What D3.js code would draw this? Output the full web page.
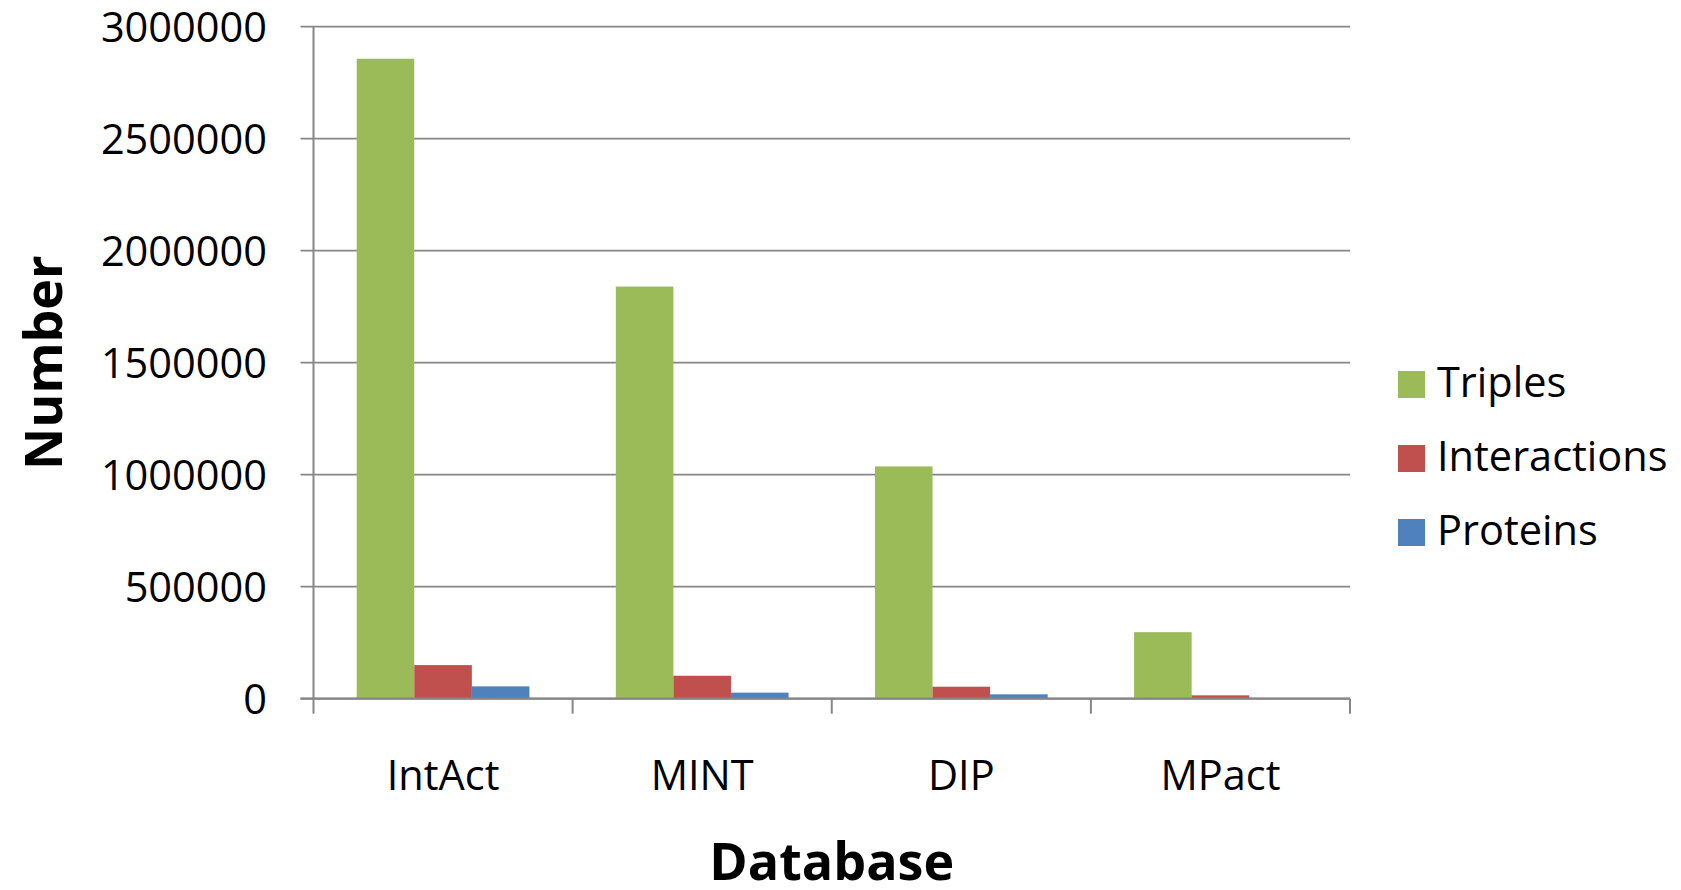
<!DOCTYPE html>
<html>
<head>
<meta charset="utf-8">
<script src="https://cdn.jsdelivr.net/npm/d3@7"></script>
<style>
  body { margin: 0; background: #fff; }
  text { font-family: "Open Sans", sans-serif; fill: #000; }
</style>
</head>
<body>
<svg id="chart" width="1681" height="890"></svg>
<script>
const categories = ["IntAct", "MINT", "DIP", "MPact"];
const seriesNames = ["Triples", "Interactions", "Proteins"];
const triples = [2857000, 1840000, 1037000, 297000];
const interactions = [150000, 102500, 53500, 15000];
const proteins = [55000, 27000, 19500, 0];
const yTicks = [0, 500000, 1000000, 1500000, 2000000, 2500000, 3000000];
const colors = ["#9BBB59", "#C0504D", "#4F81BD"];

const seriesValues = [triples, interactions, proteins];

const plotLeft = 313.5, plotRight = 1350, plotTop = 26.7, plotBottom = 698.7;
const gridColor = "#868686";

const svg = d3.select("#chart");

const x = d3.scaleBand()
    .domain(categories)
    .range([plotLeft, plotRight]);

const xInner = d3.scaleBand()
    .domain(seriesNames)
    .range([0, x.bandwidth()])
    .paddingOuter(0.75);

const y = d3.scaleLinear()
    .domain([0, 3000000])
    .range([plotBottom, plotTop]);

// gridlines + tick labels
svg.append("g")
    .selectAll("line")
    .data(yTicks)
    .enter()
    .append("line")
    .attr("x1", plotLeft - 13)
    .attr("x2", plotRight)
    .attr("y1", d => y(d))
    .attr("y2", d => y(d))
    .attr("stroke", gridColor)
    .attr("stroke-width", 1.7);

svg.append("g")
    .selectAll("text")
    .data(yTicks)
    .enter()
    .append("text")
    .attr("x", 267)
    .attr("y", d => y(d))
    .attr("dy", "0.36em")
    .attr("text-anchor", "end")
    .style("font-size", "41.5px")
    .text(d => d);

// bars
const groups = svg.append("g")
    .selectAll("g")
    .data(seriesNames)
    .enter()
    .append("g")
    .attr("fill", (d, i) => colors[i]);

groups.selectAll("rect")
    .data((s, i) => categories.map((c, j) => ({cat: c, series: s, value: seriesValues[i][j]})))
    .enter()
    .append("rect")
    .attr("x", d => x(d.cat) + xInner(d.series))
    .attr("width", xInner.bandwidth())
    .attr("y", d => y(d.value))
    .attr("height", d => plotBottom - y(d.value));

// axes
svg.append("line")
    .attr("x1", plotLeft).attr("x2", plotLeft)
    .attr("y1", plotTop).attr("y2", plotBottom)
    .attr("stroke", gridColor).attr("stroke-width", 2);

svg.append("line")
    .attr("x1", plotLeft - 13).attr("x2", plotRight)
    .attr("y1", plotBottom).attr("y2", plotBottom)
    .attr("stroke", gridColor).attr("stroke-width", 2.2);

const catTicks = categories.map(c => x(c)).concat([plotRight]);
svg.append("g")
    .selectAll("line")
    .data(catTicks)
    .enter()
    .append("line")
    .attr("x1", d => d).attr("x2", d => d)
    .attr("y1", plotBottom).attr("y2", plotBottom + 15)
    .attr("stroke", gridColor).attr("stroke-width", 2);

svg.append("g")
    .selectAll("text")
    .data(categories)
    .enter()
    .append("text")
    .attr("x", d => x(d) + x.bandwidth() / 2)
    .attr("y", 790)
    .attr("text-anchor", "middle")
    .style("font-size", "41.5px")
    .text(d => d);

// axis titles
svg.append("text")
    .attr("x", (plotLeft + plotRight) / 2)
    .attr("y", 880)
    .attr("text-anchor", "middle")
    .style("font-size", "52px")
    .style("font-weight", "bold")
    .text("Database");

svg.append("text")
    .attr("transform", `translate(62, ${(plotTop + plotBottom) / 2}) rotate(-90)`)
    .attr("text-anchor", "middle")
    .style("font-size", "52px")
    .style("font-weight", "bold")
    .text("Number");

// legend
const legend = svg.append("g")
    .selectAll("g")
    .data(seriesNames)
    .enter()
    .append("g")
    .attr("transform", (d, i) => `translate(1398, ${371 + i * 74})`);

legend.append("rect")
    .attr("width", 27)
    .attr("height", 27)
    .attr("fill", (d, i) => colors[i]);

legend.append("text")
    .attr("x", 39)
    .attr("y", 26)
    .style("font-size", "41.5px")
    .text(d => d);
</script>
</body>
</html>
